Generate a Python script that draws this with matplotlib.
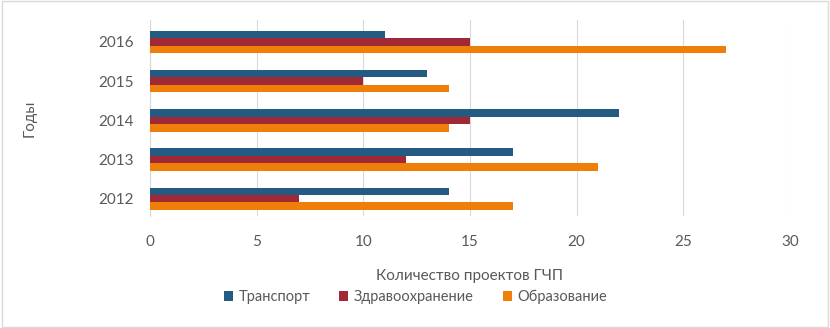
import matplotlib.pyplot as plt
import numpy as np

plt.rcParams['font.family'] = ['Lato', 'DejaVu Sans']

years = ['2012', '2013', '2014', '2015', '2016']
transport = [14, 17, 22, 13, 11]
health = [7, 12, 15, 10, 15]
education = [17, 21, 14, 14, 27]

series_names = ['Транспорт', 'Здравоохранение', 'Образование']
colors = ['#245B82', '#A12835', '#F07F09']

fig = plt.figure(figsize=(8.3, 3.28), dpi=100)
ax = fig.add_axes([0.1807, 0.3415, 0.7711, 0.5975])

y = np.arange(len(years))
h = 0.19
ax.barh(y + h, transport, height=h, color=colors[0], label=series_names[0], zorder=3)
ax.barh(y, health, height=h, color=colors[1], label=series_names[1], zorder=3)
ax.barh(y - h, education, height=h, color=colors[2], label=series_names[2], zorder=3)

ax.set_xlim(0, 30)
ax.set_ylim(-0.44, 4.56)
ax.set_xticks(range(0, 31, 5))
ax.set_yticks(y)
ax.set_yticklabels(years)
ax.grid(axis='x', color='#D9D9D9', linewidth=0.8, zorder=0)

for s in ['top', 'right', 'bottom']:
    ax.spines[s].set_visible(False)
ax.spines['left'].set_color('#D9D9D9')

ax.tick_params(axis='both', length=0, labelsize=11, labelcolor='#595959')
ax.tick_params(axis='x', pad=14)
ax.tick_params(axis='y', pad=12)

ax.set_xlabel('Количество проектов ГЧП', fontsize=11, color='#595959', labelpad=14)
ax.set_ylabel('Годы', fontsize=11, color='#595959', labelpad=44)

ax.legend(loc='upper center', bbox_to_anchor=(0.415, -0.31), ncol=3, frameon=False,
          fontsize=10.5, labelcolor='#595959', handlelength=0.6, handleheight=0.6,
          columnspacing=2.0, handletextpad=0.4)

fig.patches.append(plt.Rectangle((0.002, 0.003), 0.995, 0.993, transform=fig.transFigure,
                                 fill=False, edgecolor='#D9D9D9', linewidth=1))

fig.savefig('out.png', dpi=100)
